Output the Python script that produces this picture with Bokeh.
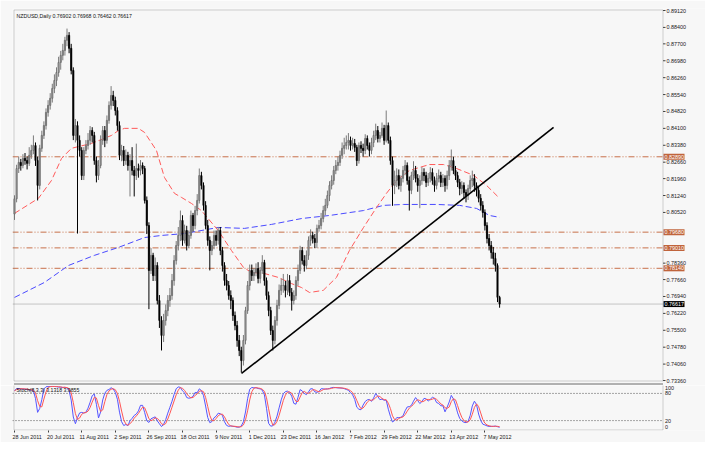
import numpy as np
import pandas as pd
from bokeh.plotting import figure
from bokeh.layouts import column
from bokeh.models import Label, Range1d, FixedTicker, ColumnDataSource, BoxAnnotation
from bokeh.core.properties import value
from bokeh.embed import file_html
from bokeh.resources import INLINE

symbol_title = "NZDUSD,Daily  0.76902 0.76968 0.76462 0.76617"
stoch_title = "Stoch(8,3,3) 3.1318 3.9855"

# daily bars, prices in pips (x 1e-4); open of each bar = previous close
first_open = 8045
closes = [8110, 8239, 8265, 8252, 8282, 8273, 8261, 8295, 8316, 8337,
          8273, 8167, 8325, 8380, 8422, 8478, 8508, 8538, 8580, 8614,
          8648, 8691, 8721, 8742, 8785, 8806, 8751, 8657, 8380, 8422,
          8359, 8316, 8209, 8316, 8337, 8359, 8401, 8380, 8273, 8209,
          8252, 8359, 8401, 8359, 8444, 8508, 8550, 8529, 8486, 8422,
          8295, 8316, 8273, 8295, 8252, 8273, 8231, 8209, 8239, 8231,
          8252, 8239, 8103, 7996, 7805, 7869, 7783, 7826, 7677, 7592,
          7528, 7592, 7634, 7677, 7698, 7762, 7847, 7911, 7954, 8018,
          7933, 7975, 7911, 7954, 8039, 7996, 8060, 8103, 8209, 8167,
          8082, 7996, 7933, 7890, 7911, 7954, 7933, 7975, 7890, 7826,
          7762, 7741, 7698, 7677, 7613, 7570, 7507, 7464, 7421, 7507,
          7634, 7741, 7805, 7783, 7796, 7813, 7771, 7805, 7839, 7762,
          7698, 7634, 7549, 7507, 7592, 7656, 7720, 7741, 7741, 7720,
          7762, 7711, 7677, 7698, 7762, 7805, 7890, 7847, 7826, 7869,
          7933, 7954, 7941, 7924, 7984, 7996, 8026, 8060, 8082, 8124,
          8167, 8188, 8231, 8252, 8265, 8295, 8325, 8337, 8350, 8359,
          8337, 8346, 8329, 8273, 8337, 8325, 8316, 8367, 8337, 8316,
          8350, 8380, 8401, 8367, 8380, 8410, 8359, 8422, 8359, 8273,
          8167, 8188, 8209, 8167, 8197, 8231, 8252, 8188, 8146, 8209,
          8231, 8197, 8167, 8188, 8222, 8209, 8180, 8197, 8222, 8188,
          8167, 8197, 8209, 8180, 8197, 8167, 8209, 8252, 8273, 8231,
          8209, 8180, 8154, 8167, 8137, 8124, 8154, 8188, 8197, 8167,
          8146, 8112, 8082, 8052, 7996, 7941, 7911, 7881, 7856, 7826,
          7690.2, 7661.7]
highs = [8125, 8255, 8290, 8280, 8300, 8305, 8290, 8330, 8340, 8380,
         8350, 8290, 8340, 8400, 8440, 8495, 8530, 8560, 8600, 8640,
         8670, 8715, 8740, 8770, 8800, 8835, 8820, 8770, 8670, 8450,
         8440, 8380, 8330, 8330, 8360, 8390, 8420, 8415, 8395, 8290,
         8275, 8380, 8420, 8420, 8465, 8525, 8590, 8570, 8545, 8500,
         8440, 8340, 8335, 8320, 8310, 8300, 8330, 8250, 8345, 8260,
         8275, 8265, 8250, 8120, 8010, 7900, 7880, 7860, 7840, 7700,
         7610, 7620, 7660, 7700, 7730, 7790, 7870, 7930, 7990, 8060,
         8040, 8000, 7995, 7975, 8060, 8050, 8080, 8130, 8239, 8225,
         8180, 8100, 8020, 7950, 7930, 7975, 7975, 7990, 7990, 7905,
         7840, 7790, 7760, 7720, 7690, 7630, 7590, 7530, 7480, 7530,
         7650, 7760, 7830, 7830, 7815, 7835, 7840, 7820, 7870, 7850,
         7775, 7715, 7650, 7570, 7610, 7680, 7745, 7770, 7790, 7760,
         7790, 7785, 7730, 7720, 7780, 7830, 7910, 7905, 7870, 7890,
         7950, 7980, 7970, 7960, 8000, 8020, 8050, 8080, 8110, 8145,
         8185, 8210, 8250, 8275, 8290, 8315, 8350, 8370, 8380, 8390,
         8375, 8370, 8365, 8340, 8350, 8355, 8345, 8385, 8380, 8350,
         8370, 8400, 8430, 8420, 8395, 8435, 8425, 8486, 8435, 8375,
         8290, 8230, 8240, 8235, 8210, 8250, 8275, 8265, 8205, 8225,
         8270, 8250, 8215, 8210, 8245, 8240, 8225, 8220, 8245, 8240,
         8205, 8220, 8235, 8225, 8215, 8210, 8230, 8275, 8320, 8290,
         8250, 8225, 8195, 8185, 8180, 8150, 8170, 8210, 8230, 8215,
         8180, 8165, 8130, 8100, 8065, 8010, 7960, 7930, 7905, 7880,
         7835, 7696.8]
lows = [8020, 8095, 8220, 8230, 8240, 8255, 8235, 8250, 8280, 8300,
        8250, 8103, 8150, 8310, 8365, 8405, 8460, 8490, 8520, 8560,
        8590, 8630, 8660, 8700, 8720, 8760, 8730, 8640, 8360, 8350,
        7962, 8290, 8190, 8190, 8300, 8320, 8340, 8350, 8255, 8180,
        8190, 8240, 8340, 8330, 8345, 8430, 8490, 8505, 8465, 8400,
        8275, 8270, 8250, 8255, 8230, 8120, 8210, 8120, 8190, 8200,
        8210, 8215, 8090, 7960, 7640, 7790, 7760, 7760, 7660, 7560,
        7464, 7500, 7570, 7610, 7650, 7680, 7740, 7830, 7890, 7930,
        7910, 7920, 7890, 7900, 7940, 7970, 7980, 8040, 8090, 8150,
        8060, 7980, 7910, 7805, 7870, 7895, 7910, 7915, 7870, 7800,
        7740, 7720, 7680, 7640, 7590, 7550, 7480, 7440, 7370, 7400,
        7490, 7620, 7720, 7760, 7760, 7780, 7750, 7750, 7790, 7740,
        7680, 7610, 7530, 7464, 7490, 7570, 7640, 7700, 7710, 7690,
        7700, 7695, 7634, 7660, 7680, 7740, 7790, 7830, 7800, 7810,
        7850, 7910, 7920, 7900, 7900, 7970, 7980, 8010, 8040, 8070,
        8100, 8150, 8170, 8215, 8230, 8250, 8280, 8300, 8320, 8320,
        8315, 8320, 8310, 8250, 8260, 8305, 8290, 8300, 8320, 8290,
        8300, 8330, 8360, 8350, 8350, 8370, 8340, 8350, 8345, 8255,
        8080, 8130, 8160, 8150, 8140, 8180, 8210, 8170, 8060, 8130,
        8190, 8180, 8140, 8070, 8170, 8185, 8160, 8165, 8180, 8170,
        8140, 8150, 8180, 8160, 8160, 8140, 8150, 8190, 8230, 8215,
        8190, 8160, 8125, 8130, 8110, 8095, 8105, 8140, 8160, 8140,
        8120, 8095, 8060, 8030, 7975, 7920, 7890, 7855, 7830, 7800,
        7670, 7646.2]

# date axis: one label every 16 bars
date_labels = ["28 Jun 2011", "20 Jul 2011", "11 Aug 2011", "2 Sep 2011", "26 Sep 2011",
               "18 Oct 2011", "9 Nov 2011", "1 Dec 2011", "23 Dec 2011", "16 Jan 2012",
               "7 Feb 2012", "29 Feb 2012", "22 Mar 2012", "13 Apr 2012", "7 May 2012"]
label_step = 16

price_ticks = [0.8912, 0.8840, 0.8770, 0.8698, 0.8626, 0.8554, 0.8482, 0.8410, 0.8338,
               0.8266, 0.8196, 0.8124, 0.8052, 0.7836, 0.7766, 0.7694, 0.7622, 0.7550,
               0.7478, 0.7406, 0.7336]
stoch_ticks = [100, 80, 20, 0]

# horizontal levels (dash-dot-dot) and current price
level_prices = [0.82890, 0.79680, 0.79010, 0.78140]
last_price = 0.76617

# trend line (bar index, price)
trend_bars = [108.1, 256.7]
trend_prices = [0.7366, 0.8414]

# moving averages (bar index, price)
red_ma_bars = [0, 11.4, 17.6, 22.4, 27.1, 36.7, 46.2, 49.5, 52.4, 59, 61.9, 67.6, 71.4, 76.2,
               79.5, 84.3, 89, 97, 103.3, 109, 112.9, 119, 125.7, 131.9, 136.7, 140.5, 147,
               153.3, 159.5, 166.2, 172.4, 177.1, 181.9, 188.1, 197.6, 204.3, 210.5, 218.6,
               224.8, 231]
red_ma_vals = [0.8048, 0.8112, 0.8188, 0.8282, 0.8325, 0.8346, 0.8380, 0.8401, 0.8410, 0.8410,
               0.8393, 0.8316, 0.8201, 0.8133, 0.8116, 0.8090, 0.8060, 0.7975, 0.7890, 0.7818,
               0.7796, 0.7792, 0.7775, 0.7749, 0.7732, 0.7711, 0.7720, 0.7775, 0.7890, 0.7988,
               0.8073, 0.8133, 0.8188, 0.8231, 0.8256, 0.8256, 0.8239, 0.8210, 0.8167, 0.8112]
blue_ma_bars = [0, 14.3, 25.7, 38, 49.5, 61.9, 70, 81, 97, 109.5, 122.4, 136.7, 150, 166.2,
                175.7, 185.2, 201, 212, 220, 226.2, 231]
blue_ma_vals = [0.7690, 0.7754, 0.7826, 0.7869, 0.7903, 0.7945, 0.7954, 0.7962, 0.7988, 0.7984,
                0.8001, 0.8026, 0.8039, 0.8060, 0.8082, 0.8086, 0.8086, 0.8082, 0.8069, 0.8039,
                0.8031]

# ---------------------------------------------------------------- styling / layout
BG = "#f7f7f7"
FRAME = "#6a6a6a"
FONT = "Liberation Sans"
FS = "5.4px"
W = 705
SPLIT = 385            # pixel row where the lower (stochastic) pane's canvas starts

# pixel calibration of the MT4 layout (bar spacing, price and stochastic scales)
PX_PER_BAR = 2.1
def bx(px):            # horizontal pixel -> bar coordinate
    return -0.48 + (px - 13) / PX_PER_BAR
P_TOP, P_PER_PX = 0.89163, 0.15844 / 372
def py1(px):           # vertical pixel -> price (main pane)
    return P_TOP - (px - 9) * P_PER_PX
S_PER_PX = 1 / 0.4733
def py2(px):           # vertical pixel -> stochastic value (lower pane)
    return 100 - (px - 383.8) * S_PER_PX

axis_x = bx(662.5)     # position of the price scale line

n = len(closes)
idx = np.arange(n)
c = np.array(closes, dtype=float) / 1e4
h = np.array(highs, dtype=float) / 1e4
l = np.array(lows, dtype=float) / 1e4
o = np.concatenate([[first_open / 1e4], c[:-1]])
up = c >= o

src = ColumnDataSource(dict(
    x=idx, o=o, h=h, l=l, c=c,
    top=np.maximum(o, c), bottom=np.minimum(o, c),
    wick=np.where(up, "#7a7a7a", "#000000"),
    fill=np.where(up, "#a8a8a8", "#000000"),
    edge=np.where(up, "#6a6a6a", "#000000"),
))

x_range = Range1d(bx(12), bx(W))
x0 = x_range.start

# ---------------------------------------------------------------- main pane
p1 = figure(width=W, height=SPLIT, x_range=x_range, y_range=Range1d(py1(SPLIT), py1(8)),
            output_backend="svg", toolbar_location=None,
            x_axis_location=None, y_axis_location=None,
            min_border_left=12, min_border_right=0, min_border_top=8, min_border_bottom=0,
            background_fill_color=BG, border_fill_color=BG, outline_line_color=None)
p1.grid.visible = False

p1.add_layout(BoxAnnotation(left=bx(13.5), right=axis_x, top=py1(9.5), bottom=py1(380.5),
                            fill_color=None, line_color=FRAME, line_width=1))
# top edge of the stochastic pane (falls on this canvas)
p1.segment(x0=[bx(13.5)], y0=[py1(383.5)], x1=[axis_x], y1=[py1(383.5)],
           line_color=FRAME, line_width=1)

# levels and current price line (stop at the price scale)
p1.segment(x0=[x0] * len(level_prices), y0=level_prices, x1=[axis_x] * len(level_prices),
           y1=level_prices, line_color="#c8704a", line_dash="6 2 1 2 1 2", line_width=1)
p1.segment(x0=[x0], y0=[last_price], x1=[axis_x], y1=[last_price],
           line_color="#c4c4c4", line_width=1)

# moving averages
p1.line(blue_ma_bars, blue_ma_vals, line_color="#4a4aff", line_dash="6 3", line_width=1)
p1.line(red_ma_bars, red_ma_vals, line_color="#ff5a5a", line_dash="6 3", line_width=1)

# candles
p1.segment(x0="x", y0="l", x1="x", y1="h", line_color="wick", line_width=1, source=src)
p1.vbar(x="x", width=0.55, top="top", bottom="bottom", fill_color="fill",
        line_color="edge", line_width=0.8, source=src)

# trend line
p1.line(trend_bars, trend_prices, line_color="black", line_width=1.6)

# price scale: ticks, labels, level tags
nt = len(price_ticks)
p1.segment(x0=[axis_x] * nt, y0=price_ticks, x1=[bx(665)] * nt, y1=price_ticks,
           line_color="#404040", line_width=1)
p1.text(x=[bx(666)] * nt, y=price_ticks, text=[f"{t:.5f}" for t in price_ticks],
        text_font=value(FONT), text_font_size=FS, text_color="#202020",
        text_baseline="middle", text_align="left")

tag_half = 3 * P_PER_PX
tag_vals = level_prices + [last_price]
tag_cols = ["#c0643c"] * len(level_prices) + ["#000000"]
p1.quad(left=[bx(663)] * len(tag_vals), right=[bx(684)] * len(tag_vals),
        top=[v + tag_half for v in tag_vals], bottom=[v - tag_half for v in tag_vals],
        fill_color=tag_cols, line_color=None)
p1.text(x=[bx(664)] * len(tag_vals), y=tag_vals, text=[f"{v:.5f}" for v in tag_vals],
        text_font=value(FONT), text_font_size=FS, text_color="#ffffff",
        text_baseline="middle", text_align="left")

# title
p1.add_layout(Label(x=bx(13), y=py1(9), x_offset=3, y_offset=-3, text=symbol_title,
                    text_font=FONT, text_font_size="5.2px", text_color="#101010",
                    text_baseline="top"))

# ---------------------------------------------------------------- stochastic (8,3,3)
hs, ls, cs = pd.Series(h), pd.Series(l), pd.Series(c)
hh = hs.rolling(8, min_periods=1).max()
ll = ls.rolling(8, min_periods=1).min()
k = 100 * (cs - ll).rolling(3, min_periods=1).sum() / (hh - ll).rolling(3, min_periods=1).sum()
d = k.rolling(3, min_periods=1).mean()

p2 = figure(width=W, height=432 - SPLIT + 10, x_range=x_range,
            y_range=Range1d(py2(432), py2(SPLIT)),
            output_backend="svg", toolbar_location=None, y_axis_location=None,
            min_border_left=12, min_border_right=0, min_border_top=0, min_border_bottom=10,
            background_fill_color=BG, border_fill_color=BG, outline_line_color=None)
p2.grid.visible = False
p2.add_layout(BoxAnnotation(left=bx(13.5), right=axis_x, top=py2(383.5), bottom=py2(431.5),
                            fill_color=None, line_color=FRAME, line_width=1))
p2.segment(x0=[x0, x0], y0=[80, 20], x1=[axis_x, axis_x], y1=[80, 20],
           line_color="#505050", line_dash="1 2", line_width=1)
p2.line(idx, k.values, line_color="#5555ff", line_width=1)
p2.line(idx, d.values, line_color="#ff5555", line_width=1)
p2.add_layout(Label(x=bx(13), y=py2(SPLIT), x_offset=3, y_offset=-1, text=stoch_title,
                    text_font=FONT, text_font_size="5.2px", text_color="#101010",
                    text_baseline="top"))
# stochastic scale labels (MT4 keeps the 100 / 0 labels inside the pane)
stoch_label_y = [py2(387.5), 80, 20, py2(428)]
p2.text(x=[bx(664.5)] * 4, y=stoch_label_y, text=[str(t) for t in stoch_ticks],
        text_font=value(FONT), text_font_size=FS, text_color="#202020",
        text_baseline="middle", text_align="left")

# date axis: labels sit to the right of their bar's tick mark (MT4 style)
xa = p2.xaxis[0]
date_bars = [i * label_step for i in range(len(date_labels))]
label_pos = [b + 6 for b in date_bars]
xa.ticker = FixedTicker(ticks=label_pos, minor_ticks=date_bars)
xa.major_label_overrides = {t: s for t, s in zip(label_pos, date_labels)}
xa.axis_line_color = None
xa.major_tick_line_color = None
xa.minor_tick_line_color = "#404040"
xa.minor_tick_out = 2
xa.minor_tick_in = 0
xa.major_tick_out = 2
xa.major_tick_in = 0
xa.major_label_text_font = FONT
xa.major_label_text_font_size = FS
xa.major_label_text_color = "#202020"
xa.major_label_standoff = 1

layout = column(p1, p2, spacing=0)
open("out.html", "w").write(file_html(layout, INLINE))
